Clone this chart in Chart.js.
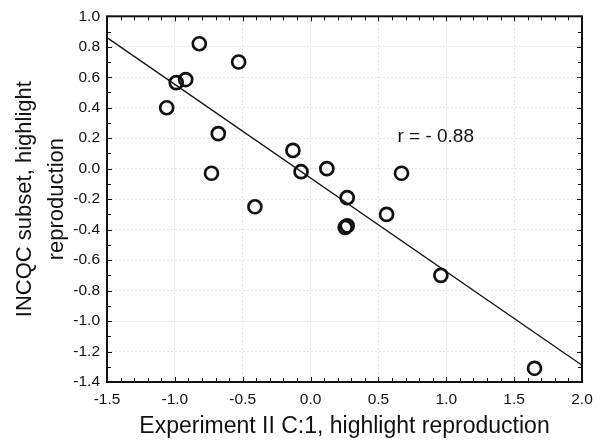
<!DOCTYPE html>
<html>
<head>
<meta charset="utf-8">
<script src="https://cdn.jsdelivr.net/npm/chart.js@4/dist/chart.umd.min.js"></script>
<style>
  html, body { margin: 0; padding: 0; background: #ffffff; }
  #wrap { width: 602px; height: 441px; }
</style>
</head>
<body>
<div id="wrap"><canvas id="c" width="602" height="441"></canvas></div>
<script>
// ---- data ----
const xValues = [-1.06, -0.99, -0.92, -0.82, -0.68, -0.73, -0.53, -0.41, -0.13, -0.07, 0.12, 0.27, 0.255, 0.27, 0.56, 0.67, 0.96, 1.65];
const yValues = [0.40, 0.565, 0.585, 0.82, 0.23, -0.03, 0.70, -0.25, 0.12, -0.02, 0.00, -0.19, -0.385, -0.375, -0.30, -0.03, -0.70, -1.31];
const fitX = [-1.5, 2.0];
const fitY = [0.86, -1.29];
const annotationText = "r = - 0.88";
const annotationX = [0.64];
const annotationY = [0.175];
const xTitle = "Experiment II C:1, highlight reproduction";
const yTitle = ["INCQC subset, highlight", "reproduction"];
const xRange = [-1.5, 2.0];
const yRange = [-1.4, 1.0];

const FONT = "Arial, 'Liberation Sans', sans-serif";

const points = xValues.map((x, i) => ({ x: x, y: yValues[i] }));
const fitLine = fitX.map((x, i) => ({ x: x, y: fitY[i] }));

const framePlugin = {
  id: 'frame',
  afterDraw(chart) {
    const { ctx, chartArea: a, scales } = chart;
    const xs = scales.x, ys = scales.y;
    ctx.save();
    ctx.strokeStyle = '#111';
    // minor/major inward ticks on all four sides
    ctx.lineWidth = 1;
    ctx.beginPath();
    for (let i = 0; i <= 35; i++) {
      const v = xRange[0] + i * 0.1;
      const px = Math.round(xs.getPixelForValue(v)) + 0.5;
      const len = (i % 5 === 0) ? 5 : 4;
      ctx.moveTo(px, a.bottom); ctx.lineTo(px, a.bottom - len);
      ctx.moveTo(px, a.top); ctx.lineTo(px, a.top + len);
    }
    for (let i = 0; i <= 24; i++) {
      const v = yRange[0] + i * 0.1;
      const py = Math.round(ys.getPixelForValue(v)) + 0.5;
      const len = (i % 2 === 0) ? 5 : 4;
      ctx.moveTo(a.left, py); ctx.lineTo(a.left + len, py);
      ctx.moveTo(a.right, py); ctx.lineTo(a.right - len, py);
    }
    ctx.stroke();
    // frame
    ctx.lineWidth = 2;
    ctx.strokeRect(a.left, a.top, a.right - a.left, a.bottom - a.top);
    // annotation
    ctx.fillStyle = '#111';
    ctx.font = '19px ' + FONT;
    ctx.textAlign = 'left';
    ctx.textBaseline = 'alphabetic';
    ctx.fillText(annotationText, xs.getPixelForValue(annotationX[0]), ys.getPixelForValue(annotationY[0]));
    ctx.restore();
  }
};

new Chart(document.getElementById('c'), {
  type: 'scatter',
  data: {
    datasets: [
      {
        type: 'line',
        data: fitLine,
        borderColor: '#111',
        borderWidth: 1.3,
        pointRadius: 0,
        fill: false,
        tension: 0
      },
      {
        type: 'scatter',
        data: points,
        pointStyle: 'circle',
        pointRadius: 6.5,
        borderWidth: 2.7,
        borderColor: '#111',
        backgroundColor: 'rgba(0,0,0,0)'
      }
    ]
  },
  options: {
    responsive: false,
    animation: false,
    devicePixelRatio: 1,
    layout: { padding: { left: 0, right: 20, top: 16, bottom: 0 } },
    plugins: { legend: { display: false }, tooltip: { enabled: false } },
    scales: {
      x: {
        type: 'linear',
        min: xRange[0], max: xRange[1],
        afterFit(scale) { scale.height = 59; },
        ticks: {
          stepSize: 0.5,
          padding: 8,
          color: '#111',
          font: { family: FONT, size: 15.5 },
          maxRotation: 0,
          callback: v => Number(v).toFixed(1)
        },
        grid: { color: '#e4e4e4', lineWidth: 1, drawTicks: false },
        border: { display: false, dash: [2, 2] },
        title: {
          display: true,
          text: xTitle,
          color: '#111',
          font: { family: FONT, size: 23 },
          padding: { top: 0, bottom: 1 }
        }
      },
      y: {
        type: 'linear',
        min: yRange[0], max: yRange[1],
        afterFit(scale) { scale.width = 107; },
        ticks: {
          stepSize: 0.2,
          padding: 7,
          color: '#111',
          font: { family: FONT, size: 15.5 },
          callback: v => Number(v).toFixed(1)
        },
        grid: { color: '#e4e4e4', lineWidth: 1, drawTicks: false },
        border: { display: false, dash: [2, 2] },
        title: {
          display: true,
          text: yTitle,
          color: '#111',
          font: { family: FONT, size: 22, lineHeight: 1.45 },
          padding: { top: 9, bottom: 0 }
        }
      }
    }
  },
  plugins: [framePlugin]
});
</script>
</body>
</html>
